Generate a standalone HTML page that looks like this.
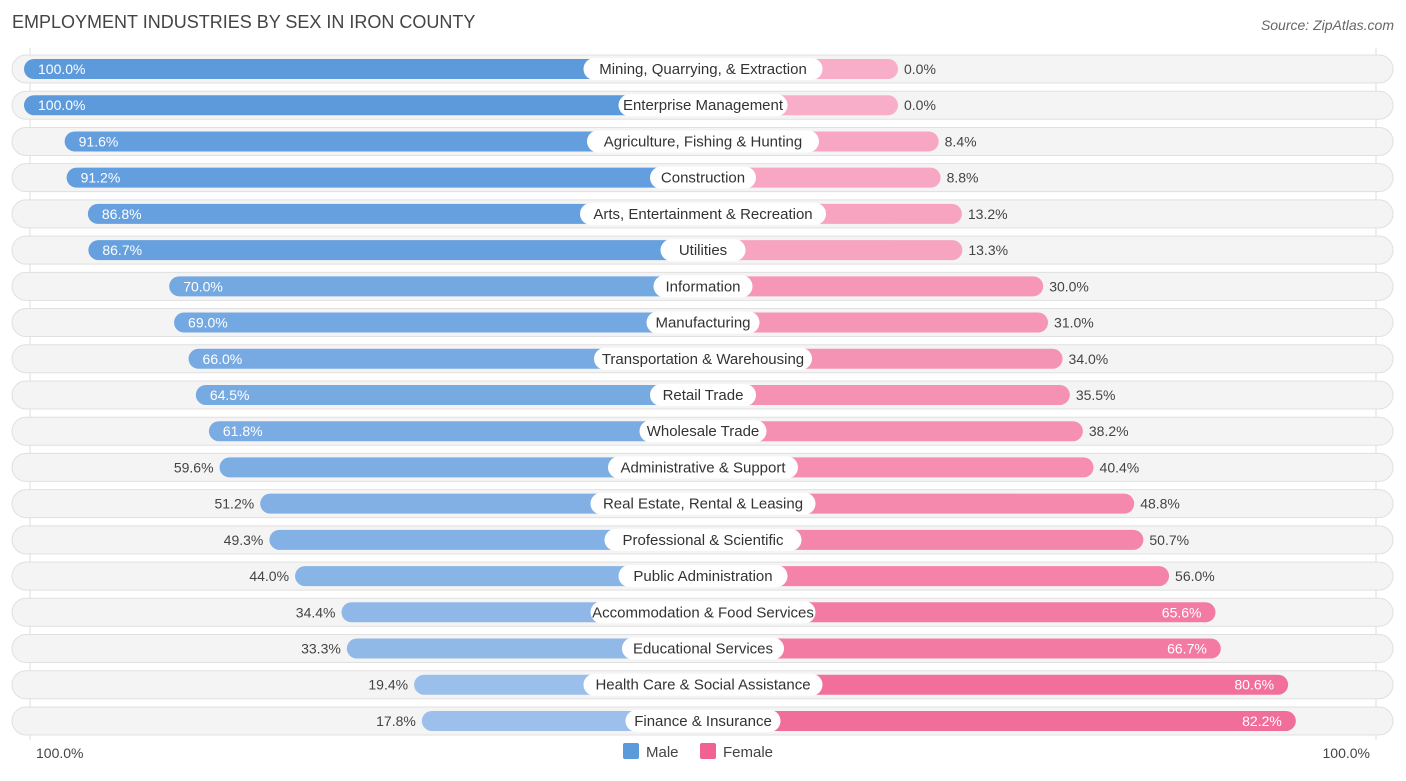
<!DOCTYPE html>
<html><head><meta charset="utf-8"><style>
body{margin:0;width:1406px;height:776px;background:#fff;font-family:"Liberation Sans",sans-serif;overflow:hidden}
</style></head><body>
<svg id="c" width="1406" height="776" xmlns="http://www.w3.org/2000/svg">
<text x="12" y="28" font-size="18" fill="#444">EMPLOYMENT INDUSTRIES BY SEX IN IRON COUNTY</text>
<text x="1394" y="30" font-size="14" fill="#666" text-anchor="end" font-style="italic">Source: ZipAtlas.com</text>
<line x1="30" y1="48" x2="30" y2="740" stroke="#ddd"/>
<line x1="1376" y1="48" x2="1376" y2="740" stroke="#ddd"/>
<g id="rows"></g>
<text x="36" y="758" font-size="14" fill="#444">100.0%</text>
<text x="1370" y="758" font-size="14" fill="#444" text-anchor="end">100.0%</text>
<rect x="623" y="743" width="16" height="16" rx="2" fill="#5b9bdc"/>
<text x="646" y="757" font-size="15" fill="#444">Male</text>
<rect x="700" y="743" width="16" height="16" rx="2" fill="#f06292"/>
<text x="723" y="757" font-size="15" fill="#444">Female</text>
</svg>
<script>
const categories=["Mining, Quarrying, & Extraction","Enterprise Management","Agriculture, Fishing & Hunting","Construction","Arts, Entertainment & Recreation","Utilities","Information","Manufacturing","Transportation & Warehousing","Retail Trade","Wholesale Trade","Administrative & Support","Real Estate, Rental & Leasing","Professional & Scientific","Public Administration","Accommodation & Food Services","Educational Services","Health Care & Social Assistance","Finance & Insurance"];
const male=[100,100,91.6,91.2,86.8,86.7,70,69,66,64.5,61.8,59.6,51.2,49.3,44,34.4,33.3,19.4,17.8];
const female=[0,0,8.4,8.8,13.2,13.3,30,31,34,35.5,38.2,40.4,48.8,50.7,56,65.6,66.7,80.6,82.2];
const NS="http://www.w3.org/2000/svg";
const g=document.getElementById('rows');
const cx=703,y0=69,dy=36.22;
function len(v){return 195+4.84*v;}
function yPos(i){return y0+i*dy;}
function mix(a,b,t){return 'rgb('+a.map((x,k)=>Math.round(x+(b[k]-x)*t)).join(',')+')';}
function mk(tag,attrs,name,inter){const e=document.createElementNS(NS,tag);for(const k in attrs)e.setAttribute(k,attrs[k]);


g.appendChild(e);return e;}
categories.forEach((c,i)=>{
 const y=yPos(i);
 mk('rect',{x:12,y:y-14,width:1381,height:28,rx:14,fill:'#f4f4f4',stroke:'#e0e0e0'},'row-background','false');
 const ml=len(male[i]);
 mk('rect',{x:cx-ml,y:y-10,width:ml,height:20,rx:10,fill:mix([170,200,238],[92,154,220],male[i]/100)},'bar-male','true');
 const fl=len(female[i]);
 mk('rect',{x:cx,y:y-10,width:fl,height:20,rx:10,fill:mix([248,174,200],[240,96,144],female[i]/100)},'bar-female','true');
 const lw=c.length*7.0+22;
 mk('rect',{x:cx-lw/2,y:y-11,width:lw,height:22,rx:11,fill:'#fff'},'category-label-bg','false');
 const t=mk('text',{x:cx,y:y+5,'font-size':15,fill:'#333','text-anchor':'middle'},'category-label','false');t.textContent=c;
 const mIn=male[i]>=60.5;
 const mt=mk('text',{x:mIn?cx-ml+14:cx-ml-6,y:y+5,'font-size':14,fill:mIn?'#fff':'#444','text-anchor':mIn?'start':'end'},'male-value','false');mt.textContent=male[i].toFixed(1)+'%';
 const fIn=female[i]>=60;
 const ft=mk('text',{x:fIn?cx+fl-14:cx+fl+6,y:y+5,'font-size':14,fill:fIn?'#fff':'#444','text-anchor':fIn?'end':'start'},'female-value','false');ft.textContent=female[i].toFixed(1)+'%';
});
</script>
</body></html>
